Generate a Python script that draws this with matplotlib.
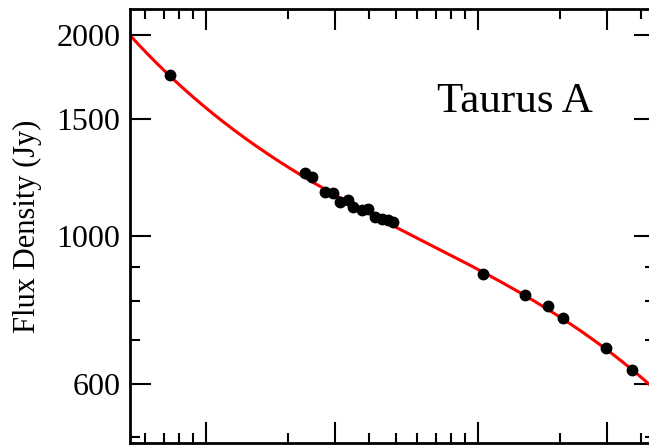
import numpy as np
import matplotlib
matplotlib.use("Agg")
import matplotlib.pyplot as plt
from matplotlib.ticker import FixedLocator, NullFormatter

plt.rcParams['font.family'] = ['Liberation Serif', 'DejaVu Serif']

# measured flux densities (MHz, Jy)
freq = [73.9, 231.8, 245.4, 274.5, 294.5, 311.7, 334.4, 348.8, 374.6, 396.1,
        419.3, 443.6, 469.2, 489.5, 1043, 1493, 1818, 2064, 2963, 3683]
flux = [1743, 1242, 1225, 1165, 1159, 1126, 1132, 1106, 1094, 1100,
        1069, 1063, 1057, 1051, 879, 816, 786, 753, 681, 630]

# points along the fitted spectrum (MHz, Jy)
fit_freq = [52.7, 61.4, 73.7, 91.1, 114.1, 143.1, 179.4, 231.2, 339.3, 488.2,
            613.6, 813.5, 1034, 1493, 2064, 2981, 3683, 4265]
fit_flux = [2000, 1868, 1743, 1618, 1492, 1385, 1300, 1227, 1124, 1042,
            992, 931, 879, 816, 750, 679, 631, 600]

xmajor = [100, 300, 1000, 3000]
xminor = [60, 70, 80, 90, 200, 400, 500, 600, 700, 800, 900, 2000, 4000]
ymajor = [600, 1000, 1500, 2000]
yminor = [500, 700, 800, 900]

# cubic in log-log through the fit points, for a smooth curve
coef = np.polyfit(np.log10(fit_freq), np.log10(fit_flux), 3)
lx = np.linspace(np.log10(fit_freq[0]), np.log10(4600), 300)
curve_x = 10 ** lx
curve_y = 10 ** np.polyval(coef, lx)

fig = plt.figure(figsize=(6.49, 4.45), dpi=100)
ax = fig.add_axes([130 / 649, 2 / 445, 525 / 649, 433.7 / 445])

ax.plot(curve_x, curve_y, color='#ff0000', lw=2.2, zorder=2)
ax.plot(freq, flux, 'o', color='black', ms=7.5, zorder=3)

ax.set_xscale('log')
ax.set_yscale('log')
ax.set_xlim(52.7, 4485)
ax.set_ylim(490, 2188)

ax.xaxis.set_major_locator(FixedLocator(xmajor))
ax.xaxis.set_minor_locator(FixedLocator(xminor))
ax.xaxis.set_major_formatter(NullFormatter())
ax.xaxis.set_minor_formatter(NullFormatter())
ax.yaxis.set_major_locator(FixedLocator(ymajor))
ax.yaxis.set_minor_locator(FixedLocator(yminor))
ax.set_yticklabels([str(v) for v in ymajor])
ax.yaxis.set_minor_formatter(NullFormatter())

ax.tick_params(which='both', direction='in', top=True, right=True,
               labelbottom=False, width=1.5, labelsize=23, pad=7)
ax.tick_params(which='major', length=15)
ax.tick_params(which='minor', length=7.5)
for s in ax.spines.values():
    s.set_linewidth(2)

ax.set_ylabel('Flux Density (Jy)', fontsize=22)
ax.yaxis.set_label_coords(-0.168, 0.5)

ax.text(0.584, 0.764, 'Taurus A', transform=ax.transAxes, fontsize=31,
        ha='left', va='baseline')

fig.savefig('out.png', dpi=100)
